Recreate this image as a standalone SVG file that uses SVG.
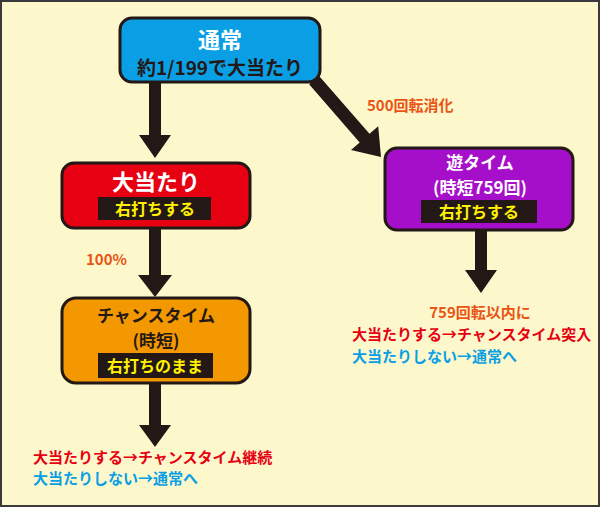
<svg xmlns="http://www.w3.org/2000/svg" width="600" height="507" viewBox="0 0 600 507">
<style>
text{font-family:"Noto Sans CJK JP","Noto Sans",sans-serif;font-weight:bold}
.box{stroke:#231815;stroke-width:3}
.tag{fill:#231815}
.y{fill:#fff100;font-size:16px}
.s{font-size:15px}
</style>
<rect x="1" y="1" width="598" height="505" fill="#fcf8cc" stroke="#3a3a3a" stroke-width="2"/>
<g id="connectors" fill="#231815">
<polygon points="149,82 161,82 161,135 171,135 155,158 139,135 149,135"/>
<polygon points="149,228 161,228 161,275 172,275 155,297 138,275 149,275"/>
<polygon points="475,230 487,230 487,270 497,270 481,293 465,270 475,270"/>
<polygon points="149,383 161,383 161,425 171,425 155,447 139,425 149,425"/>
<polygon points="318.9,75.7 369.5,133.8 378.2,126.3 381,157 351,149.9 359.7,142.4 309.1,84.3"/>
</g>
<g id="n1">
<rect class="box" x="120" y="18" width="200" height="64" rx="12" fill="#0a9fe4"/>
<text x="220" y="48" text-anchor="middle" fill="#fff" font-size="22">通常</text>
<text x="220" y="75" text-anchor="middle" fill="#231815" font-size="19">約1/199で大当たり</text>
</g>
<g id="n2">
<rect class="box" x="62" y="163" width="188" height="65" rx="12" fill="#e60012"/>
<text x="156" y="190" text-anchor="middle" fill="#fff" font-size="22">大当たり</text>
<rect class="tag" x="98" y="197" width="113" height="23"/>
<text x="155" y="215" text-anchor="middle" class="y">右打ちする</text>
</g>
<g id="n3">
<rect class="box" x="385" y="148" width="188" height="82" rx="12" fill="#a50fc9"/>
<text x="480" y="169" text-anchor="middle" fill="#fff" font-size="17">遊タイム</text>
<text x="480" y="194" text-anchor="middle" fill="#fff" font-size="17">(時短759回)</text>
<rect class="tag" x="421" y="200" width="116" height="23"/>
<text x="479" y="218" text-anchor="middle" class="y">右打ちする</text>
</g>
<g id="n4">
<rect class="box" x="62" y="298" width="188" height="85" rx="14" fill="#f39800"/>
<text x="156" y="322" text-anchor="middle" fill="#231815" font-size="17">チャンスタイム</text>
<text x="156" y="347" text-anchor="middle" fill="#231815" font-size="17">(時短)</text>
<rect class="tag" x="98" y="353" width="115" height="25"/>
<text x="155" y="372" text-anchor="middle" class="y">右打ちのまま</text>
</g>
<g id="labels">
<text x="86" y="265" fill="#ea5414" class="s">100%</text>
<text x="367" y="111" fill="#ea5414" class="s">500回転消化</text>
<text x="480" y="318" text-anchor="middle" fill="#ea5414" class="s">759回転以内に</text>
<text x="352" y="340" fill="#e60012" class="s">大当たりする→チャンスタイム突入</text>
<text x="352" y="362" fill="#0a9fe4" class="s">大当たりしない→通常へ</text>
<text x="33" y="463" fill="#e60012" class="s">大当たりする→チャンスタイム継続</text>
<text x="33" y="484" fill="#0a9fe4" class="s">大当たりしない→通常へ</text>
</g>
</svg>
